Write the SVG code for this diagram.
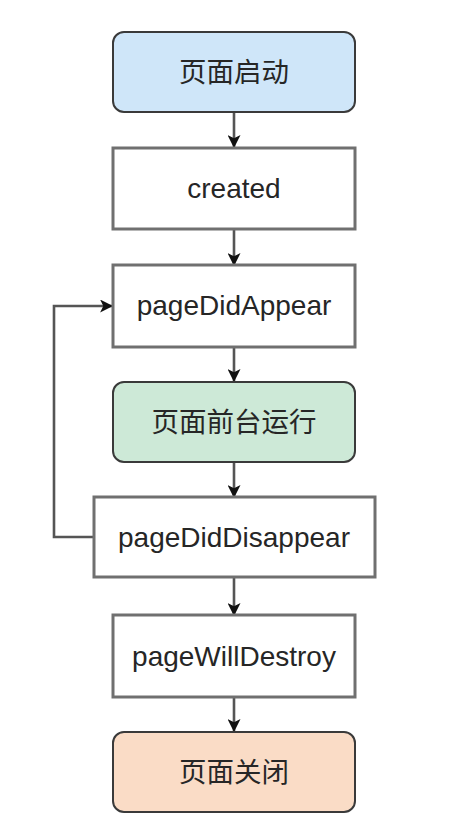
<svg xmlns="http://www.w3.org/2000/svg" width="476" height="840" viewBox="0 0 476 840">
<style>
.rbox{stroke:#3a3a3a;stroke-width:2}
.box{fill:#fff;stroke:#707070;stroke-width:3}
.t{font-family:"Liberation Sans","Noto Sans CJK SC",sans-serif;font-size:28px;fill:#262626;text-anchor:middle;dominant-baseline:central}
.z{font-size:27.5px}
.c{fill:none;stroke:#555;stroke-width:2.6}
</style>
<defs>
<marker id="ah" viewBox="0 0 12 12" refX="11" refY="6" markerWidth="13" markerHeight="13" markerUnits="userSpaceOnUse" orient="auto">
<path d="M0,0 L12,6 L0,12 L3,6 Z" fill="#111"/>
</marker>
</defs>
<rect width="476" height="840" fill="#fff"/>
<g id="connectors">
<line class="c" x1="234" y1="112" x2="234" y2="147" marker-end="url(#ah)"/>
<line class="c" x1="234" y1="229" x2="234" y2="265" marker-end="url(#ah)"/>
<line class="c" x1="234" y1="347" x2="234" y2="381" marker-end="url(#ah)"/>
<line class="c" x1="234" y1="462" x2="234" y2="497" marker-end="url(#ah)"/>
<line class="c" x1="234" y1="577" x2="234" y2="615" marker-end="url(#ah)"/>
<line class="c" x1="234" y1="697" x2="234" y2="731" marker-end="url(#ah)"/>
<polyline class="c" points="94,537 54,537 54,306 112,306" marker-end="url(#ah)"/>
</g>
<g id="n1"><rect class="rbox" x="113" y="32" width="242" height="80" rx="11" fill="#cfe6f9"/><text class="t z" x="234" y="72">页面启动</text></g>
<g id="n2"><rect class="box" x="113" y="148" width="242" height="81"/><text class="t" x="234" y="188">created</text></g>
<g id="n3"><rect class="box" x="113" y="265" width="242" height="82"/><text class="t" x="234" y="305">pageDidAppear</text></g>
<g id="n4"><rect class="rbox" x="113" y="382" width="242" height="80" rx="11" fill="#cde9d7"/><text class="t z" x="234" y="422">页面前台运行</text></g>
<g id="n5"><rect class="box" x="94" y="497" width="281" height="80"/><text class="t" x="234" y="537">pageDidDisappear</text></g>
<g id="n6"><rect class="box" x="113" y="615" width="242" height="82"/><text class="t" x="234" y="656">pageWillDestroy</text></g>
<g id="n7"><rect class="rbox" x="113" y="732" width="242" height="80" rx="11" fill="#fadcc6"/><text class="t z" x="234" y="772">页面关闭</text></g>
</svg>
